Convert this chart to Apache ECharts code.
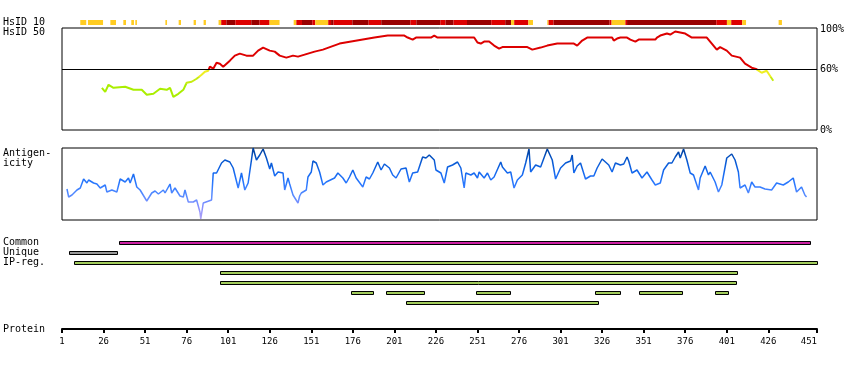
<!DOCTYPE html>
<html><head><meta charset="utf-8">
<script src="https://cdn.jsdelivr.net/npm/echarts@6/dist/echarts.min.js"></script>
<style>html,body{margin:0;padding:0;background:#fff}#c{width:850px;height:370px}</style>
</head><body><div id="c"></div>
<script>
// ---------- data ----------
const axisEnd = 455.3;
const tickValues = [1,26,51,76,101,126,151,176,201,226,251,276,301,326,351,376,401,426,455.3];
const tickLabels = ['1','26','51','76','101','126','151','176','201','226','251','276','301','326','351','376','401','426','451'];
const pctTicks = [0,60,100];

// HsID 10 strip: segment start, end, level (0 = >=10 low/yellow, 1 = red, 2 = dark red)
const stripStart = [12,16.6,30.1,37.9,42.7,45.1,63.2,71.2,80.2,86.2,95.2,96.8,99.9,105.3,114.9,119.9,125.9,140.4,142,145.4,151.6,153.4,161.2,162.9,164.4,175.7,185.5,193.1,210.6,214.2,228.6,231.8,236.6,244.7,259.3,267.7,271.2,273.1,281.6,293,293.8,296.8,330.5,331.7,340,341,394.7,401.1,403.7,410.3,432.2];
const stripEnd   = [15.6,25.7,33.5,39.5,44.3,46.1,64.2,72.6,81.6,87.6,96.8,99.9,105.3,114.9,119.9,125.9,131.9,142,145.4,151.6,153.4,161.2,162.9,164.4,175.7,185.5,193.1,210.6,214.2,228.6,231.8,236.6,244.7,259.3,267.7,271.2,273.1,281.6,284.4,293.8,296.8,330.5,331.7,340,341,394.7,401.1,403.7,410.3,412.6,434.2];
const stripLevel = [0,0,0,0,0,0,0,0,0,0, 0,1,2,1,2,1,0,0,1,2, 1,0,1,2,1,2,1,2,1,2, 1,2,1,2,1,2,0,1,0,0, 1,2,1,0,1,2,1,0,1,0, 0];

// HsID 50 (%)
const hsidPos = [25,27,29,32,39,44,49,52,56,60,64,66,68,71,74,76,79,82,85,87,89,90,92,94,96,98,100,102,105,108,112,116,119,122,126,129,132,136,140,143,147,153,158,168,175,182,189,197,207,209,212,214,223,225,227,249,251,253,255,258,261,264,266,281,284,289,293,299,309,311,314,317,332,333,335,337,341,343,346,348,358,359,361,365,367,370,373,376,380,389,392,395,397,401,404,409,412,416,419,422,425,429];
const hsidVal = [42,38,45,42,43,40,40,35,36,41,40,42,33,36,40,47,48,51,55,58,59,63,61,67,66,63,66,69,74,76,74,74,79,82,79,78,74,72,74,73,75,78,80,86,88,90,92,94,94,92,90,92,92,94,92,92,87,86,88,88,84,81,82.5,82.5,80,82,84,86,86,84,89,92,92,89,91,92,92,90,88,90,90,92,94,96,95,98,97,96,92,92,86,80,82.5,79,74,72,66,62,60.4,57,59,49];

// Antigenicity (relative units)
const antiPos = [4,5,7,8,10,12,14,16,17,20,
 22,24,27,28,31,34,36,39,41,42,
 44,46,48,52,55,57,59,62,63,66,
 67,69,70,72,74,75,77,80,82,84,
 84.5,86,87,91,92,94,95,97,99,102,
 104,105,107,109,111,113,115,116,118,120,
 122,124,126,127,129,131,134,135,137,138,
 140,141,143,144,145,148,149,151,152,154,
 156,158,160,165,167,170,172,174,176,178,
 182,184,186,188,191,193,195,198,200,202,
 205,208,210,212,215,216,218,220,222,225,
 226,229,231,233,236,239,241,243,244,247,
 249,251,252,255,257,259,261,265,266,269,
 271,273,275,278,280,282,283,286,289,291,
 293,296,298,301,304,307,308,309,311,313,
 316,319,321,323,326,328,330,332,334,337,
 339,341,342,344,347,350,353,356,358,361,
 363,366,368,370,372,373,375,377,379,381,
 384,385,387,388,390,391,394,396,398,401,
 402,404,406,408,409,412,414,416,418,421,
 424,428,429,431,435,438,441,442,443,446,
 448,449];
const antiVal = [31,23,25,23,30,32,41,37,40,37,
 36,32,35,28,30,28,41,38,42,37,
 46,33,30,19,27,29,26,30,27,36,
 27,32,33,24,23,30,18,18,20,8,
 1,17,18,20,47,47,48,57,60,58,
 52,50,32,47,30,37,60,72,60,65,
 71,62,51,57,44,48,47,30,42,36,
 25,25,17,24,27,30,43,48,59,57,
 48,35,38,42,47,42,37,43,50,42,
 33,43,41,47,58,50,56,52,45,42,
 51,52,38,47,48,53,63,62,65,60,
 50,47,37,53,55,58,52,32,47,45,
 47,42,48,42,47,40,43,58,53,47,
 48,32,40,45,57,71,48,55,53,62,
 71,60,41,52,57,59,65,47,54,57,
 41,44,44,52,61,58,55,48,57,55,
 56,63,59,47,50,42,48,40,35,37,
 50,57,57,63,68,62,71,60,47,45,
 30,42,50,54,45,48,38,28,35,62,
 63,66,60,48,32,35,27,38,33,33,
 31,30,28,37,35,38,42,35,28,33,
 25,23];

// Region bars: row, start, end, kind (0 common, 1 unique, 2 IP-reg)
const barRow   = [0,1,2,3,4,5,5,5,5,5,5,6];
const barStart = [35,5,8,96,96,175,196,250,322,348,394,208];
const barEnd   = [451,34,455.3,407,406.5,188,219,270.5,337,374,402,323.5];
const barKind  = [0,1,2,2,2,2,2,2,2,2,2,2];

const rowLabels = ['Common','Unique','IP-reg.'];

// ---------- styles ----------
const stripColors = ['#ffcc22','#dd0000','#990000'];
const barColors = ['#cc22a4','#999999','#a2cc5c'];
const FONT = '"DejaVu Sans Mono", monospace';

const chart = echarts.init(document.getElementById('c'), null, {renderer:'canvas'});
const hiddenX = gi => ({gridIndex:gi, type:'value', min:1, max:axisEnd, show:false});

const option = {
  animation:false,
  backgroundColor:'#ffffff',
  grid:[
    {left:62,right:33,top:20,height:5},
    {left:62,right:33,top:28,height:102,show:true,borderColor:'#000',borderWidth:1,backgroundColor:'transparent'},
    {left:62,right:33,top:148,height:72,show:true,borderColor:'#000',borderWidth:1,backgroundColor:'transparent'},
    {left:62,right:33,top:237.7,height:70},
    {left:62,right:33,top:328,height:1}
  ],
  xAxis:[hiddenX(0),hiddenX(1),hiddenX(2),hiddenX(3),
    {gridIndex:4,type:'value',min:1,max:axisEnd,position:'bottom',
     axisLine:{show:true,lineStyle:{color:'#000',width:2}},
     axisTick:{show:true,customValues:tickValues,length:4,lineStyle:{color:'#000',width:2}},
     axisLabel:{customValues:tickValues,color:'#000',fontSize:9,fontFamily:FONT,margin:8,
       alignMaxLabel:'right',
       formatter:v=>{const i=tickValues.findIndex(t=>Math.abs(t-v)<1e-6);return i>=0?tickLabels[i]:'';}},
     splitLine:{show:false}}
  ],
  yAxis:[
    {gridIndex:0,type:'value',min:0,max:1,show:false},
    {gridIndex:1,type:'value',min:0,max:101.5,position:'right',
     axisLine:{show:false},axisTick:{show:false},splitLine:{show:false},
     axisLabel:{customValues:pctTicks,formatter:'{value}%',color:'#000',fontSize:10,fontFamily:FONT,margin:3}},
    {gridIndex:2,type:'value',min:0,max:72,show:false},
    {gridIndex:3,type:'value',min:0,max:7,inverse:true,show:false},
    {gridIndex:4,type:'value',min:0,max:1,show:false}
  ],
  visualMap:[
    {type:'piecewise',show:false,seriesIndex:1,dimension:1,
     pieces:[{lt:46,color:'#aaee00'},{gte:46,lt:53,color:'#c6ec12'},{gte:53,lt:60,color:'#eeee22'},{gte:60,color:'#dd0000'}]},
    {type:'continuous',show:false,seriesIndex:2,dimension:1,min:0,max:72,
     inRange:{color:['#b4a4f4','#8a90ff','#5a8cff','#2a78ff','#1468ee','#0656cc','#003e99']}}
  ],
  series:[
    {type:'custom',xAxisIndex:0,yAxisIndex:0,encode:{x:[0,1]},
     data:stripStart.map((s,i)=>[s,stripEnd[i],stripLevel[i]]),
     renderItem:(p,api)=>{
       const a=api.coord([api.value(0),1]); const b=api.coord([api.value(1),0]);
       return {type:'rect',shape:{x:a[0],y:a[1],width:b[0]-a[0],height:b[1]-a[1]},style:{fill:stripColors[api.value(2)]}};
     }},
    {type:'line',xAxisIndex:1,yAxisIndex:1,showSymbol:false,
     data:hsidPos.map((x,i)=>[x,hsidVal[i]]),lineStyle:{width:2},
     markLine:{silent:true,symbol:['none','none'],label:{show:false},
       lineStyle:{color:'#000',width:1,type:'solid'},data:[{yAxis:60}]}},
    {type:'line',xAxisIndex:2,yAxisIndex:2,showSymbol:false,
     data:antiPos.map((x,i)=>[x,antiVal[i]]),lineStyle:{width:1.5}},
    {type:'custom',xAxisIndex:3,yAxisIndex:3,encode:{x:[0,1],y:2},
     data:barStart.map((s,i)=>[s,barEnd[i],barRow[i],barKind[i]]),
     renderItem:(p,api)=>{
       const a=api.coord([api.value(0),api.value(2)+0.5]); const b=api.coord([api.value(1),api.value(2)+0.5]);
       const y=Math.round(a[1]-2)+0.5;
       return {type:'rect',shape:{x:Math.round(a[0])+0.5,y:y,width:Math.round(b[0]-a[0]),height:3},
         style:{fill:barColors[api.value(3)],stroke:'#000',lineWidth:1}};
     }}
  ],
  graphic:[
    {type:'text',x:3,y:22.7,style:{text:'HsID 10',font:'10px '+FONT,fill:'#000',verticalAlign:'middle'}},
    {type:'text',x:3,y:32.7,style:{text:'HsID 50',font:'10px '+FONT,fill:'#000',verticalAlign:'middle'}},
    {type:'text',x:3,y:153.3,style:{text:'Antigen-',font:'10px '+FONT,fill:'#000',verticalAlign:'middle'}},
    {type:'text',x:3,y:163.3,style:{text:'icity',font:'10px '+FONT,fill:'#000',verticalAlign:'middle'}},
    {type:'text',x:3,y:242.7,style:{text:rowLabels[0],font:'10px '+FONT,fill:'#000',verticalAlign:'middle'}},
    {type:'text',x:3,y:252.7,style:{text:rowLabels[1],font:'10px '+FONT,fill:'#000',verticalAlign:'middle'}},
    {type:'text',x:3,y:262.7,style:{text:rowLabels[2],font:'10px '+FONT,fill:'#000',verticalAlign:'middle'}},
    {type:'text',x:3,y:329.3,style:{text:'Protein',font:'10px '+FONT,fill:'#000',verticalAlign:'middle'}}
  ]
};
chart.setOption(option);
</script></body></html>
